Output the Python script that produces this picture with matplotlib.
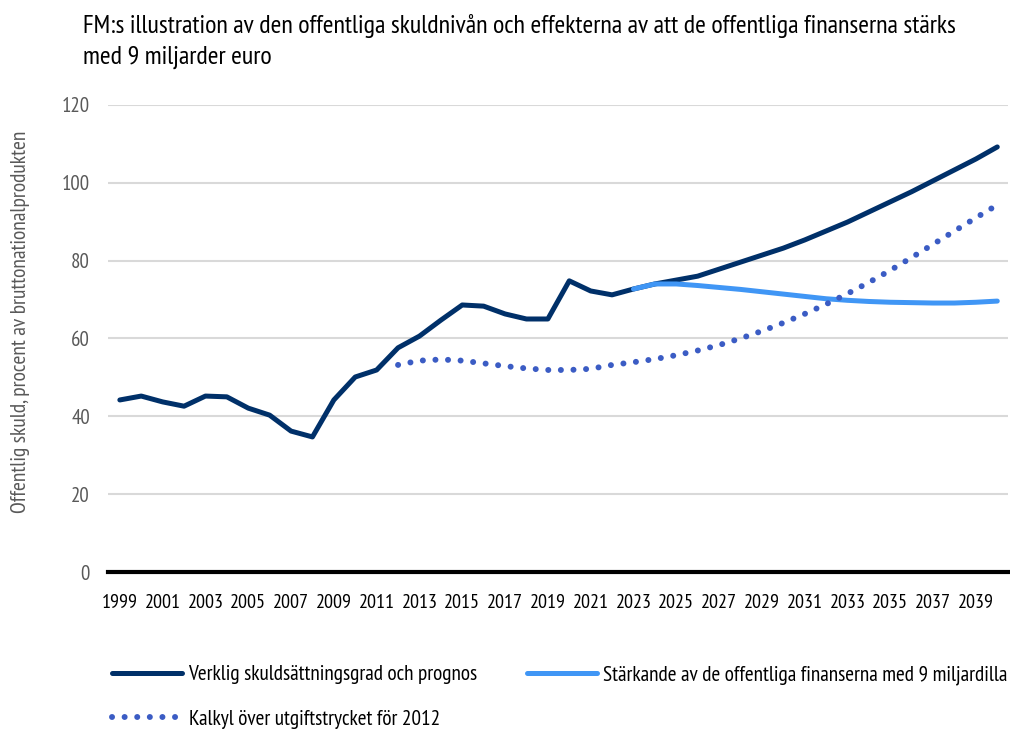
import matplotlib
matplotlib.use("Agg")
import matplotlib.pyplot as plt

plt.rcParams['font.family'] = ['PT Sans Narrow', 'DejaVu Sans']

# data
ar = list(range(1999, 2041))
verklig = [44.2, 45.2, 43.7, 42.6, 45.2, 45.0, 42.1, 40.3, 36.2, 34.7,
           44.2, 50.1, 51.9, 57.6, 60.6, 64.7, 68.6, 68.3, 66.3, 65.0,
           65.0, 74.8, 72.2, 71.2, 72.7, 74.0, 75.0, 76.0, 77.8, 79.6,
           81.4, 83.2, 85.3, 87.6, 89.9, 92.5, 95.1, 97.7, 100.5, 103.3,
           106.1, 109.2]
ar_starkande = list(range(2023, 2041))
starkande = [72.7, 74.0, 74.0, 73.6, 73.1, 72.6, 72.0, 71.4, 70.8, 70.2,
             69.8, 69.5, 69.3, 69.2, 69.1, 69.1, 69.3, 69.6]
ar_kalkyl = list(range(2012, 2041))
kalkyl = [53.2, 54.3, 54.6, 54.3, 53.6, 52.9, 52.3, 51.9, 51.9, 52.2,
          53.2, 53.9, 54.7, 55.7, 56.9, 58.3, 60.0, 61.9, 64.0, 66.3,
          68.8, 71.5, 74.4, 77.5, 80.8, 84.2, 87.6, 91.0, 94.3]

namn = ["Verklig skuldsättningsgrad och prognos",
        "Stärkande av de offentliga finanserna med 9 miljardilla",
        "Kalkyl över utgiftstrycket för 2012"]

fig = plt.figure(figsize=(10.1, 7.31), dpi=100)
ax = fig.add_axes([0.107, 0.2175, 0.891, 0.639])

l1, = ax.plot(ar, verklig, color="#003069", lw=3.6, solid_capstyle="round")
l2, = ax.plot(ar_starkande, starkande, color="#4096f5", lw=3.6, solid_capstyle="round")
l3, = ax.plot(ar_kalkyl, kalkyl, color="#3b5cc4", lw=4.3,
              linestyle=(0, (0.01, 2.1)), dash_capstyle="round")

ax.set_xlim(1998.45, 2040.5)
ax.set_ylim(0, 120)
ax.set_yticks(range(0, 121, 20))
ax.set_xticks(range(1999, 2040, 2))
ax.tick_params(axis="both", length=0)
ax.tick_params(axis="y", labelsize=15, labelcolor="#595959", pad=13)
ax.tick_params(axis="x", labelsize=14.5, labelcolor="black", pad=16)
ax.grid(axis="y", color="#d9d9d9", lw=1.5)
ax.set_axisbelow(True)
for s in ["top", "right", "left"]:
    ax.spines[s].set_visible(False)
ax.spines["bottom"].set_color("black")
ax.spines["bottom"].set_linewidth(3)

ax.set_ylabel("Offentlig skuld, procent av bruttonationalprodukten",
              fontsize=15.5, color="#595959")
ax.yaxis.set_label_coords(-0.087, 0.535)

fig.text(0.082, 0.981, "FM:s illustration av den offentliga skuldnivån och effekterna av att de offentliga finanserna stärks\nmed 9 miljarder euro",
         fontsize=18.7, va="top", ha="left", linespacing=1.4)

fig.legend([l1, l3, l2], [namn[0], namn[2], namn[1]], ncol=2,
           loc="upper left", bbox_to_anchor=(0.092, 0.116),
           frameon=False, fontsize=15.3, handlelength=3.3,
           handletextpad=0.3, columnspacing=2.3, labelspacing=1.2)

fig.savefig("out.png", dpi=100)
